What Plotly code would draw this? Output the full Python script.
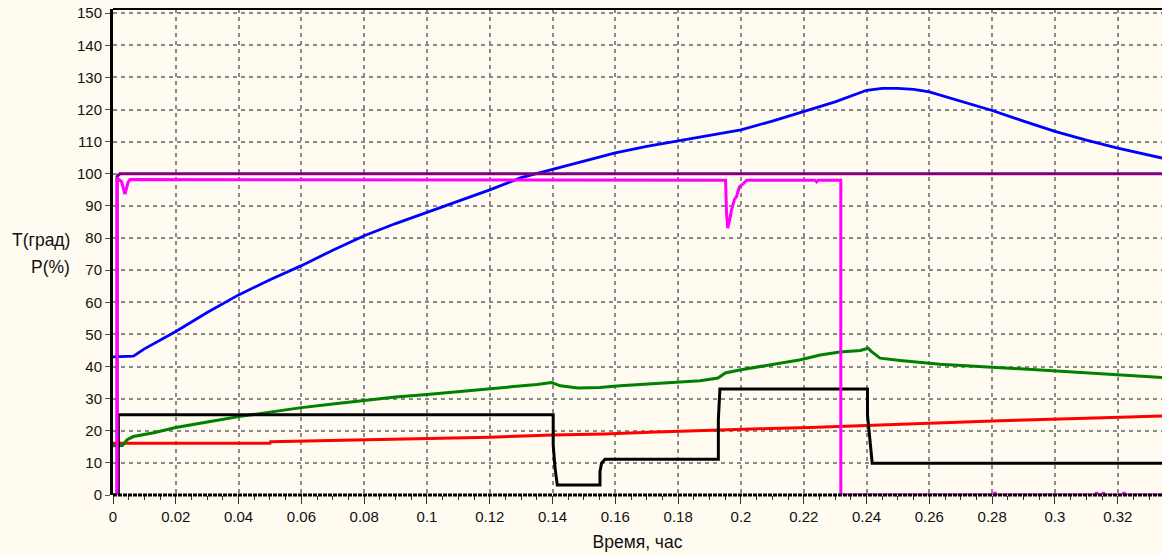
import plotly.graph_objects as go

# ---- data -------------------------------------------------------------
# time axis, hours
x_tick_vals = [0, 0.02, 0.04, 0.06, 0.08, 0.1, 0.12, 0.14, 0.16, 0.18,
               0.2, 0.22, 0.24, 0.26, 0.28, 0.3, 0.32]
x_tick_text = ["0", "0.02", "0.04", "0.06", "0.08", "0.1", "0.12", "0.14",
               "0.16", "0.18", "0.2", "0.22", "0.24", "0.26", "0.28", "0.3",
               "0.32"]
y_tick_vals = [0, 10, 20, 30, 40, 50, 60, 70, 80, 90, 100, 110, 120, 130, 140, 150]

# main temperature (blue)
t_blue = [0, 0.0065, 0.01, 0.02, 0.03, 0.04, 0.05, 0.06, 0.07, 0.08, 0.09,
          0.1, 0.11, 0.12, 0.13, 0.14, 0.15, 0.16, 0.17, 0.18, 0.19, 0.2,
          0.21, 0.22, 0.23, 0.24, 0.245, 0.25, 0.255, 0.26, 0.27, 0.28,
          0.29, 0.3, 0.31, 0.32, 0.3341]
v_blue = [43.0, 43.2, 45.5, 50.9, 56.8, 62.3, 67.0, 71.4, 76.2, 80.7, 84.5,
          88.0, 91.6, 95.0, 98.8, 101.3, 104.0, 106.5, 108.5, 110.3, 112.0, 113.7,
          116.4, 119.4, 122.4, 126.0, 126.6, 126.6, 126.3, 125.5, 122.7, 119.7,
          116.4, 113.2, 110.5, 108.0, 104.9]

# second temperature (green)
t_green = [0, 0.003, 0.0045, 0.0065, 0.013, 0.02, 0.031, 0.04, 0.05, 0.06,
           0.07, 0.08, 0.09, 0.1, 0.11, 0.12, 0.13, 0.135, 0.1397, 0.1425,
           0.148, 0.155, 0.1615, 0.174, 0.187, 0.1927, 0.195, 0.2, 0.206,
           0.219, 0.2252, 0.2315, 0.238, 0.2405, 0.2415, 0.2443, 0.2507,
           0.257, 0.2634, 0.28, 0.3, 0.32, 0.3341]
v_green = [15.3, 15.4, 17.2, 18.2, 19.4, 21.0, 22.9, 24.4, 25.8, 27.2,
           28.3, 29.5, 30.5, 31.3, 32.2, 32.9, 33.8, 34.4, 35.0, 34.0,
           33.3, 33.5, 34.0, 34.8, 35.6, 36.4, 38.0, 39.0, 40.0,
           42.1, 43.6, 44.5, 45.0, 45.7, 44.7, 42.6, 41.9,
           41.2, 40.7, 39.8, 38.6, 37.4, 36.6]

# ambient temperature (red)
t_red = [0, 0.05, 0.0502, 0.09, 0.12, 0.14, 0.1565, 0.173, 0.193, 0.206,
         0.222, 0.238, 0.25, 0.2825, 0.31, 0.3341]
v_red = [16.1, 16.1, 16.6, 17.3, 18.0, 18.7, 19.0, 19.6, 20.3, 20.6,
         21.0, 21.6, 22.0, 23.1, 23.9, 24.6]

# power step (black)
t_black = [0, 0.0017, 0.0017, 0.1402, 0.1402, 0.1408, 0.1415, 0.1551, 0.1551,
           0.1556, 0.1567, 0.1928, 0.1928, 0.1933, 0.1942, 0.2403, 0.2403,
           0.2414, 0.2418, 0.3341]
v_black = [0, 0, 25, 25, 15.6, 8.3, 3.1, 3.1, 7.3,
           9.9, 11.1, 11.1, 23.4, 33.0, 33.0, 33.0, 24.9,
           14.0, 9.9, 9.9]

# power, % (magenta)
t_magenta = [0, 0.0013, 0.0013, 0.0027, 0.0038, 0.0048, 0.0054, 0.1951, 0.1954,
             0.1958, 0.1965, 0.197, 0.1979, 0.1986, 0.1995, 0.2004, 0.2018,
             0.2236, 0.2241, 0.2246, 0.2318, 0.2318, 0.2805, 0.2809, 0.2813,
             0.3129, 0.3133, 0.3137, 0.3150, 0.3154, 0.3158, 0.3216, 0.322,
             0.3224, 0.3341]
v_magenta = [0, 0, 98.6, 97.6, 93.7, 97.3, 98.2, 98.0, 87.8,
             83.1, 86.2, 88.8, 91.9, 93.0, 95.9, 96.6, 98.0,
             98.0, 97.5, 98.0, 98.0, 0, 0, 0.8, 0,
             0, 0.8, 0, 0, 0.8, 0, 0, 0.8,
             0, 0]

# set point, % (purple)
t_purple = [0, 0.0013, 0.0013, 0.0022, 0.3341]
v_purple = [0, 0, 99.2, 100, 100]

# ---- figure -----------------------------------------------------------
BG = "#FFFBF0"
FONT = "Liberation Sans, Arial, sans-serif"
GRID = "#8a8a8a"

fig = go.Figure()
series = [
    (t_red, v_red, "#FF0000", 3),
    (t_green, v_green, "#008000", 3),
    (t_blue, v_blue, "#0000FF", 2.8),
    (t_black, v_black, "#000000", 3),
    (t_purple, v_purple, "#800080", 3),
    (t_magenta, v_magenta, "#FF00FF", 3),
]
for tx, vy, col, w in series:
    fig.add_trace(go.Scatter(x=tx, y=vy, mode="lines",
                             line=dict(color=col, width=w),
                             hoverinfo="skip", showlegend=False))

fig.update_layout(
    width=1162, height=556,
    margin=dict(l=113, r=0, t=9, b=61),
    paper_bgcolor=BG, plot_bgcolor=BG,
    font=dict(family=FONT, size=15, color="#111111"),
    showlegend=False,
    xaxis=dict(
        range=[0, 0.3341],
        tickmode="array", tickvals=x_tick_vals, ticktext=x_tick_text,
        ticks="outside", ticklen=8, tickwidth=1, tickcolor="#333333",
        showgrid=True, gridcolor=GRID, gridwidth=1.5, griddash="4px,4px",
        zeroline=False, showline=False,
        minor=dict(tickmode="linear", tick0=0, dtick=0.005, ticks="outside",
                   ticklen=4, tickwidth=1, tickcolor="#333333", showgrid=False),
        tickfont=dict(size=15),
        title=dict(text="Время, час", font=dict(size=17.5), standoff=11),
    ),
    yaxis=dict(
        range=[0, 151.3],
        tickmode="array", tickvals=y_tick_vals,
        ticks="outside", ticklen=5, tickwidth=1, tickcolor="#555555",
        showgrid=True, gridcolor=GRID, gridwidth=1.5, griddash="4px,4px",
        zeroline=False,
        showline=True, linecolor="#000000", linewidth=3,
        tickfont=dict(size=15),
    ),
    shapes=[
        # top frame line
        dict(type="line", xref="paper", yref="paper", x0=0, x1=1, y0=1, y1=1,
             line=dict(color="#000000", width=2), layer="above"),
        # dotted bottom axis line
        dict(type="line", xref="paper", yref="paper", x0=0, x1=1, y0=0, y1=0,
             line=dict(color="#000000", width=3, dash="4px,1px"), layer="above"),
    ],
    annotations=[
        dict(text="T(град)", xref="paper", yref="paper", x=0, y=0.5247,
             xanchor="right", yanchor="middle", xshift=-41, showarrow=False,
             font=dict(size=17.5)),
        dict(text="P(%)", xref="paper", yref="paper", x=0, y=0.4691,
             xanchor="right", yanchor="middle", xshift=-41, showarrow=False,
             font=dict(size=17.5)),
    ],
)

fig.write_html("out.html")
